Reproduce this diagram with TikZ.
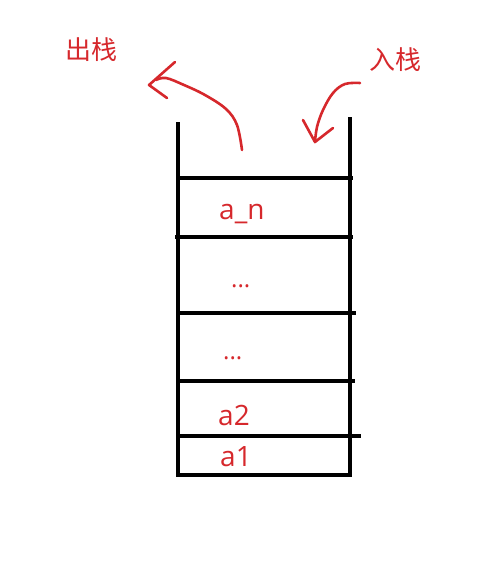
\documentclass[tikz,border=0pt]{standalone}
\usepackage{fontspec}
\setmainfont{Open Sans}
\newfontfamily\cjk{Noto Sans CJK SC}
\definecolor{inkred}{RGB}{214,40,44}
\begin{document}
\begin{tikzpicture}[x=1pt,y=-1pt,
  wall/.style={line width=4pt,black},
  redline/.style={line width=2.6pt,inkred,line cap=round,line join=round},
  lbl/.style={inkred,font=\fontsize{28}{30}\selectfont,anchor=base west,inner sep=0pt},
  dotlbl/.style={inkred,font=\fontsize{24}{26}\selectfont,anchor=base west,inner sep=0pt},
  cjklbl/.style={inkred,font=\cjk\fontsize{26}{28}\selectfont,inner sep=0pt}]
\useasboundingbox (0,0) rectangle (496,582);
% stack walls
\draw[wall] (178,122) -- (178,475) -- (350,475) -- (350,117);
\draw[wall] (178,178) -- (353,178);
\draw[wall] (175,237) -- (353,237);
\draw[wall] (178,313) -- (356,313);
\draw[wall] (178,381) -- (355,381);
\draw[wall] (178,436) -- (361,436);
% labels
\node[cjklbl] (out) at (91,50) {出栈};
\node[cjklbl] (in) at (395,60) {入栈};
\node[lbl] (an) at (219,219) {a\_n};
\node[dotlbl] (d1) at (231,287) {...};
\node[dotlbl] (d2) at (223,359) {...};
\node[lbl] (a2) at (218,425) {a2};
\node[lbl] (a1) at (220,466) {a1};
% out arrow
\coordinate (outstart) at (242,150);
\coordinate (outtip) at (149,85);
\draw[redline] plot[smooth,tension=0.6] coordinates {(outstart) (237,125) (226,109) (205,95) (184,85) (166,78) (156,80)};
\draw[redline] (175,62) -- (outtip) -- (167,98);
% in arrow
\coordinate (instart) at (360,83);
\coordinate (intip) at (315,142);
\draw[redline] plot[smooth,tension=0.6] coordinates {(instart) (345,84) (333,93) (323,110) (317,127) (intip)};
\draw[redline] (303,120) -- (intip) -- (333,128);
\end{tikzpicture}
\end{document}
